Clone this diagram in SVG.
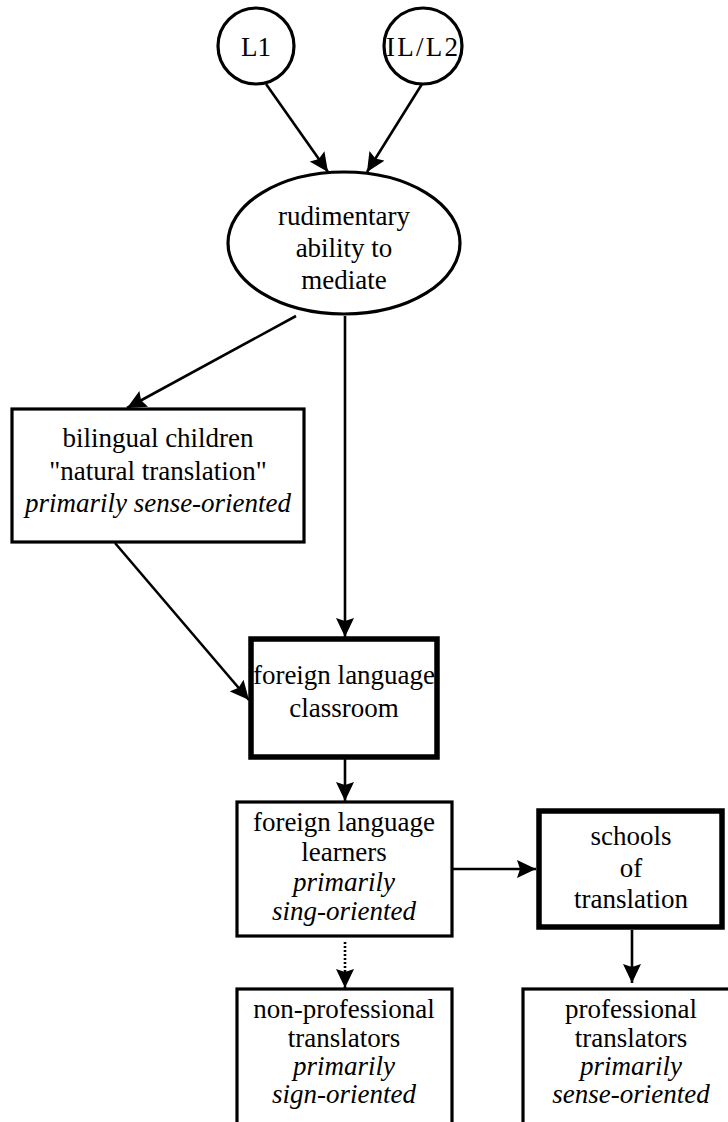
<svg xmlns="http://www.w3.org/2000/svg" width="728" height="1122" viewBox="0 0 728 1122">
<style>
  .bg { fill: #ffffff; }
  .node { fill: #ffffff; stroke: #000000; stroke-width: 3.2; }
  .thick { fill: #ffffff; stroke: #000000; stroke-width: 5.5; }
  .t { font-family: "Liberation Serif", "Times New Roman", serif; font-size: 27px; fill: #000000; text-anchor: middle; }
  .i { font-style: italic; }
  .edge { stroke: #000000; stroke-width: 2.6; fill: none; }
  .dot { stroke-dasharray: 2 2; }
</style>
<defs>
  <marker id="arr" markerUnits="userSpaceOnUse" markerWidth="20" markerHeight="18" refX="19" refY="9" orient="auto">
    <path d="M0,0 L19,9 L0,18 L3,9 z" fill="#000000"/>
  </marker>
</defs>
<rect class="bg" x="0" y="0" width="728" height="1122"/>

<g id="connectors">
  <line class="edge" x1="266" y1="84" x2="328" y2="172" marker-end="url(#arr)"/>
  <line class="edge" x1="422" y1="84" x2="367" y2="172" marker-end="url(#arr)"/>
  <line class="edge" x1="296" y1="316" x2="127" y2="408" marker-end="url(#arr)"/>
  <line class="edge" x1="345" y1="316" x2="345" y2="637" marker-end="url(#arr)"/>
  <line class="edge" x1="115" y1="543" x2="249" y2="700" marker-end="url(#arr)"/>
  <line class="edge" x1="345" y1="759" x2="345" y2="801" marker-end="url(#arr)"/>
  <line class="edge" x1="453" y1="869" x2="536" y2="869" marker-end="url(#arr)"/>
  <line class="edge dot" x1="345" y1="942" x2="345" y2="988" marker-end="url(#arr)"/>
  <line class="edge" x1="632" y1="930" x2="632" y2="983" marker-end="url(#arr)"/>
</g>

<g id="L1">
  <ellipse class="node" cx="256" cy="46" rx="38" ry="38"/>
  <text class="t" x="256" y="56">L1</text>
</g>

<g id="IL-L2">
  <ellipse class="node" cx="423" cy="46" rx="39" ry="38"/>
  <text class="t" x="422" y="56" textLength="72" lengthAdjust="spacing">IL/L2</text>
</g>

<g id="rudimentary">
  <ellipse class="node" cx="344" cy="243" rx="116" ry="71"/>
  <text class="t" x="344" y="225">rudimentary</text>
  <text class="t" x="344" y="257">ability to</text>
  <text class="t" x="344" y="289">mediate</text>
</g>

<g id="bilingual">
  <rect class="node" x="12" y="409" width="292" height="133"/>
  <text class="t" x="158" y="447">bilingual children</text>
  <text class="t" x="158" y="480">"natural translation"</text>
  <text class="t i" x="158" y="512">primarily sense-oriented</text>
</g>

<g id="classroom">
  <rect class="thick" x="251" y="639" width="186" height="118"/>
  <text class="t" x="344" y="684">foreign language</text>
  <text class="t" x="344" y="717">classroom</text>
</g>

<g id="learners">
  <rect class="node" x="237" y="802" width="215" height="134"/>
  <text class="t" x="344" y="831">foreign language</text>
  <text class="t" x="344" y="861">learners</text>
  <text class="t i" x="344" y="891">primarily</text>
  <text class="t i" x="344" y="920">sing-oriented</text>
</g>

<g id="schools">
  <rect class="thick" x="539" y="811" width="183" height="116"/>
  <text class="t" x="631" y="845">schools</text>
  <text class="t" x="631" y="877">of</text>
  <text class="t" x="631" y="908">translation</text>
</g>

<g id="nonprofessional">
  <rect class="node" x="237" y="989" width="215" height="160"/>
  <text class="t" x="344" y="1018">non-professional</text>
  <text class="t" x="344" y="1047">translators</text>
  <text class="t i" x="344" y="1075">primarily</text>
  <text class="t i" x="344" y="1103">sign-oriented</text>
</g>

<g id="professional">
  <rect class="node" x="523" y="989" width="217" height="160"/>
  <text class="t" x="631" y="1018">professional</text>
  <text class="t" x="631" y="1047">translators</text>
  <text class="t i" x="631" y="1075">primarily</text>
  <text class="t i" x="631" y="1103">sense-oriented</text>
</g>
</svg>
